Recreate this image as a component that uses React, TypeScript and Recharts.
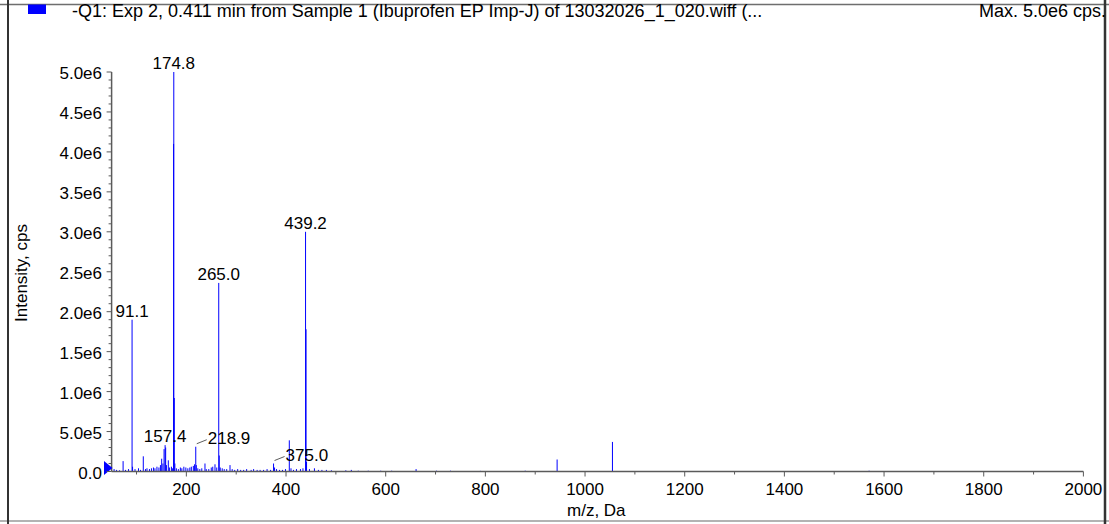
import React from "react";
import { BarChart, Bar, XAxis, YAxis, LabelList, ReferenceDot } from "recharts";

// m/z positions (Da) of the sticks
const peakMz = [
  55, 60, 66, 73.1, 78, 84, 91.1, 92.1, 97, 104,
  108, 113.6, 118, 121, 126, 130, 134, 137, 141, 145,
  148, 150.5, 153, 155.3, 157.4, 158.5, 160, 163.8, 166, 170,
  172, 174.4, 174.8, 175.8, 177, 180, 184, 188, 191, 195,
  199, 203, 207, 210, 214, 216.5, 218.9, 220, 223, 227,
  231, 237.4, 240, 245, 250, 253, 257.5, 261, 265.0, 266.0,
  268, 272, 276, 281, 287.6, 292, 297, 303, 309, 315,
  321, 330, 335, 342, 348, 355, 362, 369, 375.0, 377,
  381, 387, 393, 399, 406.6, 410, 415, 421, 429, 434,
  439.2, 440.2, 441.2, 447, 457, 465, 472, 481, 491, 520,
  531, 545, 565, 590, 612, 661, 702, 730, 790, 880,
  944, 1055, 1570,
];

// intensities in units of 1e6 cps, same order as peakMz
const peakIntensityE6 = [
  0.03, 0.02, 0.015, 0.13, 0.02, 0.03, 1.9, 0.06, 0.03, 0.04,
  0.02, 0.19, 0.03, 0.04, 0.03, 0.04, 0.05, 0.04, 0.06, 0.05,
  0.08, 0.16, 0.1, 0.28, 0.33, 0.3, 0.08, 0.14, 0.05, 0.06,
  0.04, 4.1, 5.0, 0.92, 0.1, 0.04, 0.03, 0.05, 0.04, 0.06,
  0.05, 0.04, 0.05, 0.06, 0.07, 0.09, 0.31, 0.08, 0.04, 0.03,
  0.04, 0.1, 0.03, 0.03, 0.05, 0.06, 0.09, 0.05, 2.36, 0.2,
  0.05, 0.04, 0.03, 0.03, 0.08, 0.03, 0.02, 0.03, 0.02, 0.02,
  0.03, 0.02, 0.03, 0.02, 0.02, 0.02, 0.03, 0.02, 0.1, 0.05,
  0.03, 0.02, 0.02, 0.03, 0.39, 0.04, 0.02, 0.03, 0.03, 0.04,
  3.0, 1.78, 0.12, 0.03, 0.04, 0.02, 0.02, 0.02, 0.015, 0.015,
  0.02, 0.01, 0.01, 0.01, 0.01, 0.03, 0.01, 0.01, 0.008, 0.01,
  0.15, 0.37, 0.01,
];

// annotated peaks
const labeledMz = [91.1, 157.4, 174.8, 218.9, 265.0, 375.0, 439.2];
const labelTexts = ["91.1", "157.4", "174.8", "218.9", "265.0", "375.0", "439.2"];
const leaderLabels = ["218.9", "375.0"];

// axis ticks
const xMajorTicks = [200, 400, 600, 800, 1000, 1200, 1400, 1600, 1800, 2000];
const xMinorTicks = [100, 300, 500, 700, 900, 1100, 1300, 1500, 1700, 1900];
const yMajorTicks = [0, 0.5e6, 1.0e6, 1.5e6, 2.0e6, 2.5e6, 3.0e6, 3.5e6, 4.0e6, 4.5e6, 5.0e6];
const yTickLabels = ["0.0", "5.0e5", "1.0e6", "1.5e6", "2.0e6", "2.5e6", "3.0e6", "3.5e6", "4.0e6", "4.5e6", "5.0e6"];

const titleText = "-Q1: Exp 2, 0.411 min from Sample 1 (Ibuprofen EP Imp-J) of 13032026_1_020.wiff (...";
const maxText = "Max. 5.0e6 cps.";

const FONT = "'Liberation Sans', Arial, Helvetica, sans-serif";
const BLUE = "#0000ff";
const AXIS = "#5a5a5a";
const W = 1109;
const H = 524;
const PLOT = { left: 111.6, right: 1083.4, top: 72, bottom: 471.5 };

const yMinorTicks: number[] = [];
for (let i = 1; i < 50; i++) {
  if (i % 5 !== 0) yMinorTicks.push(i * 1e5);
}

const data = peakMz
  .map((mz, i) => {
    const li = labeledMz.indexOf(mz);
    return {
      mz,
      intensity: peakIntensityE6[i] * 1e6,
      label: li >= 0 ? labelTexts[li] : undefined,
    };
  })
  .sort((a, b) => a.mz - b.mz);

const PeakLine = (props: any) => {
  const { x, y, width, height } = props;
  if (height == null || isNaN(height)) return null;
  const cx = x + width / 2;
  return <line x1={cx} x2={cx} y1={y} y2={y + height} stroke={BLUE} strokeWidth={1} />;
};

const PeakLabel = (props: any) => {
  const { x, y, width, value } = props;
  if (!value) return null;
  const cx = Number(x) + Number(width) / 2;
  const top = Number(y);
  if (leaderLabels.includes(value)) {
    return (
      <g>
        <line x1={cx + 1} y1={top - 3} x2={cx + 11} y2={top - 7} stroke="#333" strokeWidth={0.8} />
        <text x={cx + 12} y={top - 3} fontSize={17} fontFamily={FONT} fill="#000">
          {value}
        </text>
      </g>
    );
  }
  return (
    <text x={cx} y={top - 3} textAnchor="middle" fontSize={17} fontFamily={FONT} fill="#000">
      {value}
    </text>
  );
};

const XTick = (props: any) => {
  const { x, y, payload } = props;
  const major = xMajorTicks.includes(payload.value);
  return (
    <g>
      <line x1={x} x2={x} y1={y} y2={y + (major ? 5 : 3)} stroke={AXIS} />
      {major && (
        <text x={x} y={y + 23.5} textAnchor="middle" fontSize={17} fontFamily={FONT} fill="#000">
          {payload.value}
        </text>
      )}
    </g>
  );
};

const YTick = (props: any) => {
  const { x, y, payload } = props;
  const idx = yMajorTicks.indexOf(payload.value);
  const major = idx >= 0;
  return (
    <g>
      <line x1={x - (major ? 5 : 3)} x2={x} y1={y} y2={y} stroke={AXIS} />
      {major && (
        <text x={x - 9.6} y={y + 7} textAnchor="end" fontSize={17} fontFamily={FONT} fill="#000">
          {yTickLabels[idx]}
        </text>
      )}
    </g>
  );
};

const OriginMarker = (props: any) => {
  const { cx, cy } = props;
  return (
    <polygon
      points={`${cx - 7.6},${cy - 10.5} ${cx - 7.6},${cy + 3.5} ${cx + 0.9},${cy - 3.5}`}
      fill={BLUE}
    />
  );
};

export default function App() {
  const xTicks = [...xMajorTicks, ...xMinorTicks].sort((a, b) => a - b);
  const yTicks = [...yMajorTicks, ...yMinorTicks].sort((a, b) => a - b);

  return (
    <div style={{ position: "absolute", left: 0, top: 0, width: W, height: H, background: "#fff" }}>
      <BarChart
        width={W}
        height={H}
        data={data}
        margin={{ top: PLOT.top, right: W - PLOT.right, bottom: H - PLOT.bottom - 30, left: PLOT.left - 60 }}
      >
        <XAxis
          type="number"
          dataKey="mz"
          domain={[50, 2000]}
          allowDataOverflow
          ticks={xTicks}
          interval={0}
          height={30}
          tickSize={0}
          tickMargin={0}
          tickLine={false}
          axisLine={{ stroke: AXIS, strokeWidth: 1.5 }}
          tick={<XTick />}
        />
        <YAxis
          type="number"
          domain={[0, 5e6]}
          allowDataOverflow
          ticks={yTicks}
          interval={0}
          width={60}
          tickSize={0}
          tickMargin={0}
          tickLine={false}
          axisLine={{ stroke: AXIS, strokeWidth: 1.5 }}
          tick={<YTick />}
        />
        <Bar dataKey="intensity" barSize={1} isAnimationActive={false} shape={<PeakLine />}>
          <LabelList dataKey="label" content={<PeakLabel />} />
        </Bar>
        <ReferenceDot x={50} y={0} r={0} shape={<OriginMarker />} ifOverflow="visible" />
      </BarChart>

      <svg
        width={W}
        height={H}
        style={{ position: "absolute", left: 0, top: 0, pointerEvents: "none" }}
      >
        <line x1={0} x2={W} y1={4.5} y2={4.5} stroke="#6e6e6e" strokeWidth={1.5} />
        <line x1={0} x2={W} y1={521} y2={521} stroke="#9a9a9a" strokeWidth={1.5} />
        <line x1={8} x2={8} y1={0} y2={H} stroke="#333" strokeWidth={2} />
        <line x1={1105} x2={1105} y1={0} y2={H} stroke="#333" strokeWidth={2.5} />
        <rect x={28} y={4.5} width={18} height={9.5} fill={BLUE} />
        <text x={72} y={17} fontSize={18} fontFamily={FONT} fill="#000">
          {titleText}
        </text>
        <text x={1106} y={17} textAnchor="end" fontSize={18} fontFamily={FONT} fill="#000">
          {maxText}
        </text>
        <text
          transform="rotate(-90)"
          x={-273}
          y={27}
          textAnchor="middle"
          fontSize={17}
          fontFamily={FONT}
          fill="#000"
        >
          Intensity, cps
        </text>
        <text x={567} y={516} fontSize={17} fontFamily={FONT} fill="#000">
          m/z, Da
        </text>
      </svg>
    </div>
  );
}
